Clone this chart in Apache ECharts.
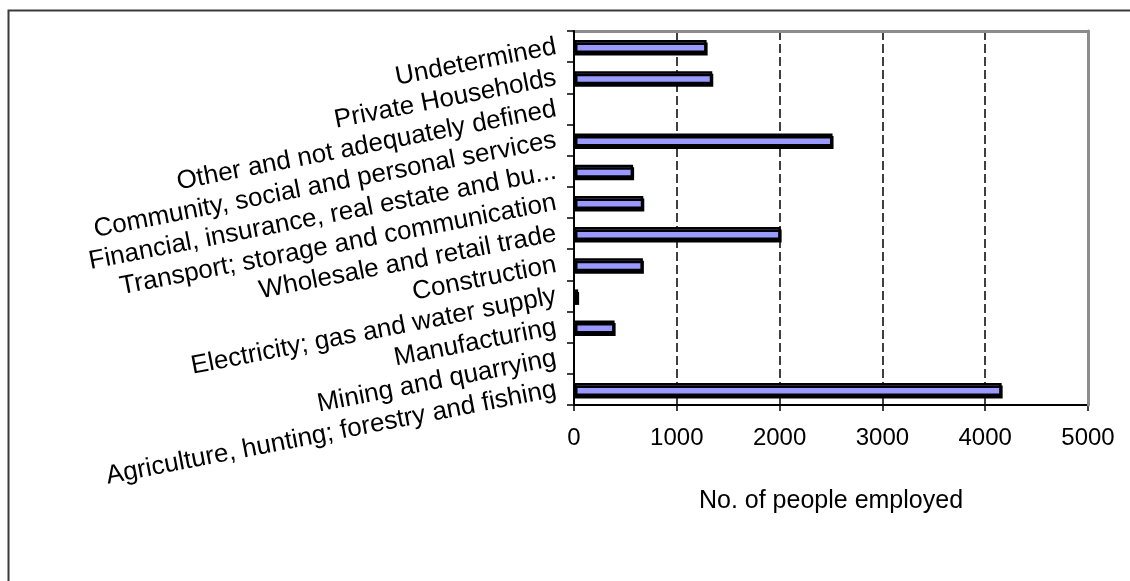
<!DOCTYPE html>
<html>
<head>
<meta charset="utf-8">
<title>Employment by industry</title>
<script src="https://cdn.jsdelivr.net/npm/echarts@6/dist/echarts.min.js"></script>
<style>
  html, body { margin: 0; padding: 0; background: #fff; }
  #chart { width: 1130px; height: 581px; }
</style>
</head>
<body>
<div id="chart"></div>
<script>
// Industry categories, listed bottom to top as the category axis draws them
const categories = [
  'Agriculture, hunting; forestry and fishing',
  'Mining and quarrying',
  'Manufacturing',
  'Electricity; gas and water supply',
  'Construction',
  'Wholesale and retail trade',
  'Transport; storage and communication',
  'Financial, insurance, real estate and bu...',
  'Community, social and personal services',
  'Other and not adequately defined',
  'Private Households',
  'Undetermined'
];

// Number of people employed in each industry
const employed = [4160, 0, 395, 40, 670, 2010, 674, 575, 2515, 0, 1345, 1290];

// Value axis range and tick step
const axisMin = 0;
const axisMax = 5000;
const axisStep = 1000;

const axisTitle = 'No. of people employed';

const FONT = "'Liberation Sans', Arial, sans-serif";

// Industries with nobody employed get no bar outline at all
const barData = employed.map(v => (v === 0 ? null : v));

const chart = echarts.init(document.getElementById('chart'), null, { renderer: 'canvas' });

chart.setOption({
  animation: false,
  backgroundColor: '#ffffff',
  graphic: [{
    // outer frame around the whole figure
    type: 'rect',
    silent: true,
    shape: { x: 8.5, y: 10.5, width: 1300, height: 800 },
    style: { fill: 'none', stroke: '#3a3a3a', lineWidth: 2 }
  }],
  grid: {
    left: 574,
    right: 42,
    top: 31,
    bottom: 176,
    containLabel: false
  },
  xAxis: [{
    type: 'value',
    min: axisMin,
    max: axisMax,
    interval: axisStep,
    position: 'bottom',
    name: axisTitle,
    nameLocation: 'middle',
    nameGap: 84,
    nameTextStyle: { fontFamily: FONT, fontSize: 25, color: '#000' },
    axisLine: { show: true, onZero: false, lineStyle: { color: '#000', width: 2 } },
    axisTick: { show: true, length: 6, lineStyle: { color: '#000', width: 1.5 } },
    axisLabel: {
      margin: 21,
      fontFamily: FONT,
      fontSize: 24,
      color: '#000',
      formatter: v => String(v)
    },
    splitLine: { show: true, lineStyle: { color: '#000', width: 1.5, type: [9, 4] } }
  }, {
    type: 'value',
    min: axisMin,
    max: axisMax,
    position: 'top',
    z: 3,
    axisLine: { show: true, onZero: false, lineStyle: { color: '#8c8c8c', width: 3 } },
    axisTick: { show: false },
    axisLabel: { show: false },
    splitLine: { show: false }
  }],
  yAxis: [{
    type: 'category',
    data: categories,
    position: 'left',
    z: 4,
    axisLine: { show: true, onZero: false, lineStyle: { color: '#000', width: 2 } },
    axisTick: { show: true, length: 7, lineStyle: { color: '#000', width: 1.5 } },
    axisLabel: {
      interval: 0,
      hideOverlap: false,
      rotate: 11,
      margin: 18,
      fontFamily: FONT,
      fontSize: 26,
      color: '#000'
    },
    splitLine: { show: false }
  }, {
    type: 'category',
    data: categories,
    position: 'right',
    z: 3,
    axisLine: { show: true, onZero: false, lineStyle: { color: '#8c8c8c', width: 3 } },
    axisTick: { show: false },
    axisLabel: { show: false },
    splitLine: { show: false }
  }],
  series: [{
    type: 'bar',
    xAxisIndex: 0,
    yAxisIndex: 0,
    data: barData,
    barWidth: 13,
    z: 2,
    itemStyle: {
      color: '#9999ff',
      borderColor: '#000',
      borderWidth: 2.5,
      shadowColor: '#000',
      shadowBlur: 0,
      shadowOffsetX: 1,
      shadowOffsetY: 2.5
    }
  }]
});
</script>
</body>
</html>
